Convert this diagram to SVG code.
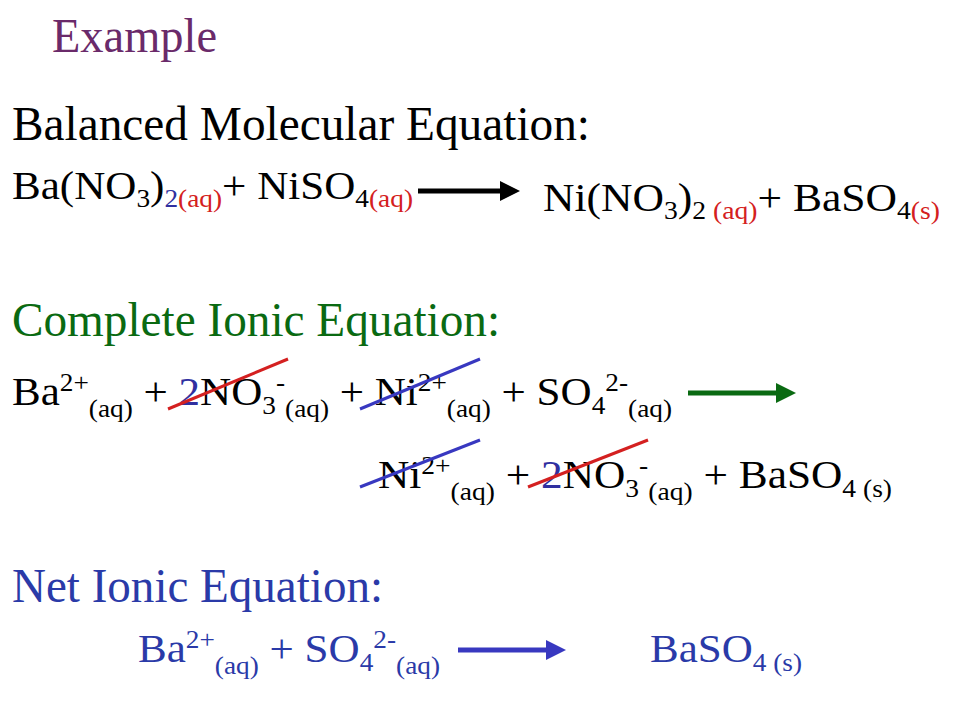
<svg xmlns="http://www.w3.org/2000/svg" width="960" height="720" viewBox="0 0 960 720">
<style>
text{font-family:"Liberation Serif","Times New Roman",serif;}
.h{font-size:48px}
.e{font-size:41px}
.s{font-size:26px}
.r{fill:#d42020}
.b{fill:#3030a0}
</style>
<defs>
<marker id="ak" markerWidth="4" markerHeight="4" refX="2" refY="2" orient="auto" markerUnits="strokeWidth"><path d="M0,0L4,2L0,4z" fill="#000"/></marker>
<marker id="ag" markerWidth="4" markerHeight="4" refX="2" refY="2" orient="auto" markerUnits="strokeWidth"><path d="M0,0L4,2L0,4z" fill="#0a6a12"/></marker>
<marker id="ab" markerWidth="4" markerHeight="4" refX="2" refY="2" orient="auto" markerUnits="strokeWidth"><path d="M0,0L4,2L0,4z" fill="#3838c0"/></marker>
</defs>
<rect width="960" height="720" fill="#fff"/>
<text x="52" y="52" class="h" fill="#6a2a6a" textLength="165" lengthAdjust="spacingAndGlyphs">Example</text>
<text x="12" y="140" class="h" textLength="578" lengthAdjust="spacingAndGlyphs">Balanced Molecular Equation:</text>
<g id="mol">
<text x="12" y="199" class="e" textLength="401" lengthAdjust="spacingAndGlyphs">Ba(NO<tspan class="s" dy="8">3</tspan><tspan dy="-8">)</tspan><tspan class="s b" dy="8">2</tspan><tspan class="s r">(aq)</tspan><tspan dy="-8">+ NiSO</tspan><tspan class="s" dy="8">4</tspan><tspan class="s r">(aq)</tspan></text>
<text x="543" y="211" class="e" textLength="397" lengthAdjust="spacingAndGlyphs">Ni(NO<tspan class="s" dy="8">3</tspan><tspan dy="-8">)</tspan><tspan class="s" dy="8">2 </tspan><tspan class="s r">(aq)</tspan><tspan dy="-8">+ BaSO</tspan><tspan class="s" dy="8">4</tspan><tspan class="s r">(s)</tspan></text>
</g>
<text x="12" y="336" class="h" fill="#0a6a12" textLength="488" lengthAdjust="spacingAndGlyphs">Complete Ionic Equation:</text>
<g id="ionic">
<text x="12" y="405" class="e" textLength="660" lengthAdjust="spacingAndGlyphs">Ba<tspan class="s" dy="-14">2+</tspan><tspan class="s" dy="26">(aq)</tspan><tspan dy="-12"> + </tspan><tspan class="b">2</tspan>NO<tspan class="s" dy="9">3</tspan><tspan class="s" dy="-23">-</tspan><tspan class="s" dy="26">(aq)</tspan><tspan dy="-12"> + Ni</tspan><tspan class="s" dy="-14">2+</tspan><tspan class="s" dy="26">(aq)</tspan><tspan dy="-12"> + SO</tspan><tspan class="s" dy="9">4</tspan><tspan class="s" dy="-23">2-</tspan><tspan class="s" dy="26">(aq)</tspan></text>
<text x="378" y="488" class="e" textLength="514" lengthAdjust="spacingAndGlyphs">Ni<tspan class="s" dy="-14">2+</tspan><tspan class="s" dy="26">(aq)</tspan><tspan dy="-12"> + </tspan><tspan class="b">2</tspan>NO<tspan class="s" dy="9">3</tspan><tspan class="s" dy="-23">-</tspan><tspan class="s" dy="26">(aq)</tspan><tspan dy="-12"> + BaSO</tspan><tspan class="s" dy="9">4 (s)</tspan></text>
</g>
<text x="12" y="602" class="h" fill="#2a3aa8" textLength="371" lengthAdjust="spacingAndGlyphs">Net Ionic Equation:</text>
<g id="net" fill="#2a3aa8">
<text x="138" y="662" class="e" textLength="302" lengthAdjust="spacingAndGlyphs">Ba<tspan class="s" dy="-14">2+</tspan><tspan class="s" dy="26">(aq)</tspan><tspan dy="-12"> + SO</tspan><tspan class="s" dy="9">4</tspan><tspan class="s" dy="-23">2-</tspan><tspan class="s" dy="26">(aq)</tspan></text>
<text x="650" y="662" class="e" textLength="152" lengthAdjust="spacingAndGlyphs">BaSO<tspan class="s" dy="9">4 (s)</tspan></text>
</g>
<g id="connectors">
<line x1="418" y1="191" x2="510" y2="191" stroke="#000" stroke-width="5" marker-end="url(#ak)"/>
<line x1="688" y1="393" x2="786" y2="393" stroke="#0a6a12" stroke-width="5" marker-end="url(#ag)"/>
<line x1="458" y1="650" x2="556" y2="650" stroke="#3838c0" stroke-width="5" marker-end="url(#ab)"/>
<line x1="168" y1="409" x2="288" y2="359" stroke="#d42020" stroke-width="3"/>
<line x1="360" y1="409" x2="480" y2="359" stroke="#3838c0" stroke-width="3"/>
<line x1="360" y1="487" x2="480" y2="440" stroke="#3838c0" stroke-width="3"/>
<line x1="528" y1="487" x2="648" y2="440" stroke="#d42020" stroke-width="3"/>
</g>
</svg>
